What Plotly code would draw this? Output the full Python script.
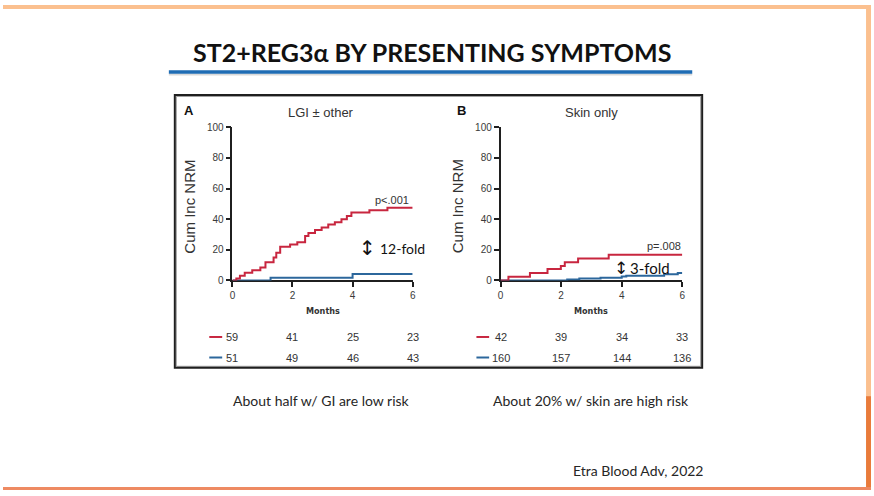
import plotly.graph_objects as go

W, H = 874, 496

# ---------------- data ----------------
tick_months = [0, 2, 4, 6]
y_ticks = [0, 20, 40, 60, 80, 100]

a_red_t = [0, 0.13, 0.25, 0.41, 0.66, 0.93, 1.10, 1.37, 1.46, 1.59, 1.92, 2.16, 2.42,
           2.53, 2.75, 2.97, 3.19, 3.41, 3.63, 3.81, 3.96, 4.56, 5.16, 6.0]
a_red_y = [0, 1.3, 3.0, 5.0, 6.7, 8.4, 11.8, 15.0, 18.0, 22.0, 23.5, 25.0, 29.0,
           31.0, 33.0, 34.5, 36.5, 38.0, 40.0, 42.0, 44.3, 45.8, 47.4, 47.4]
a_blue_t = [0, 1.27, 4.0, 6.0]
a_blue_y = [0, 1.8, 4.2, 4.2]

b_red_t = [0, 0.26, 0.97, 1.55, 1.99, 2.12, 2.56, 3.57, 6.0]
b_red_y = [0, 2.4, 4.8, 7.4, 9.5, 11.9, 14.3, 16.8, 16.8]
b_blue_t = [0, 2.2, 2.6, 3.3, 4.0, 4.15, 5.4, 5.85, 6.0]
b_blue_y = [0, 0.7, 1.2, 1.8, 2.6, 3.0, 4.0, 4.8, 4.8]

a_red_risk = [59, 41, 25, 23]
a_blue_risk = [51, 49, 46, 43]
b_red_risk = [42, 39, 34, 33]
b_blue_risk = [160, 157, 144, 136]

slide_title = "ST2+REG3α BY PRESENTING SYMPTOMS"
panel_titles = ["LGI ± other", "Skin only"]
panel_letters = ["A", "B"]
p_values = ["p<.001", "p=.008"]
fold_labels = ["12-fold", "3-fold"]
captions = ["About half w/ GI are low risk", "About 20% w/ skin are high risk"]
source = "Etra Blood Adv, 2022"

RED = "#C8263F"
BLUE = "#2C679C"
AX = "#1f1f1f"
TXT = "#333333"
ARIAL = "Liberation Sans"
CAL = "Lato"


def px(x):
    return x / W


def py(y):
    return 1 - y / H


fig = go.Figure()

panels = [
    dict(xa="x", ya="y", red=(a_red_t, a_red_y), blue=(a_blue_t, a_blue_y)),
    dict(xa="x2", ya="y2", red=(b_red_t, b_red_y), blue=(b_blue_t, b_blue_y)),
]
for p in panels:
    for col, (t, v) in (("blue", p["blue"]), ("red", p["red"])):
        fig.add_trace(go.Scatter(
            x=t, y=v, mode="lines", line=dict(color=RED if col == "red" else BLUE, width=2, shape="hv"),
            xaxis=p["xa"], yaxis=p["ya"], cliponaxis=False, showlegend=False, hoverinfo="skip"))

x_domains = [[px(231), px(412.5)], [px(501), px(684)]]
y_domain = [py(281.7), py(125)]

axis_common = dict(showgrid=False, zeroline=False, showline=True, linecolor=AX, linewidth=1.5,
                   ticks="outside", ticklen=5, tickwidth=1.5, tickcolor=AX,
                   tickfont=dict(family=ARIAL, size=10, color="#3a3a3a"), layer="below traces")

fig.update_layout(
    width=W, height=H, margin=dict(l=0, r=0, t=0, b=0),
    paper_bgcolor="white", plot_bgcolor="rgba(0,0,0,0)",
    xaxis=dict(domain=x_domains[0], range=[0, 6], tickvals=tick_months, anchor="y", **axis_common),
    yaxis=dict(domain=y_domain, range=[0, 100], tickvals=y_ticks, anchor="x", **axis_common),
    xaxis2=dict(domain=x_domains[1], range=[0, 6], tickvals=tick_months, anchor="y2", **axis_common),
    yaxis2=dict(domain=y_domain, range=[0, 100], tickvals=y_ticks, anchor="x2", **axis_common),
)

ann = []
shapes = []


def A(**kw):
    kw.setdefault("showarrow", False)
    kw.setdefault("xanchor", "center")
    kw.setdefault("yanchor", "middle")
    kw.setdefault("xref", "paper")
    kw.setdefault("yref", "paper")
    ann.append(kw)


# slide decorations
shapes.append(dict(type="rect", xref="paper", yref="paper", x0=0, x1=1, y0=py(4), y1=1,
                   line=dict(width=0), fillcolor="#FBC08F", layer="above"))
shapes.append(dict(type="rect", xref="paper", yref="paper", x0=px(869), x1=1, y0=py(400), y1=1,
                   line=dict(width=0), fillcolor="#FBC08F", layer="above"))
shapes.append(dict(type="rect", xref="paper", yref="paper", x0=px(869), x1=1, y0=0, y1=py(400),
                   line=dict(width=0), fillcolor="#E97B3A", layer="above"))
shapes.append(dict(type="rect", xref="paper", yref="paper", x0=0, x1=1, y0=0, y1=py(493),
                   line=dict(width=0), fillcolor="#EE8A62", layer="above"))
# title underline
shapes.append(dict(type="line", xref="paper", yref="paper", x0=px(167), x1=px(694), y0=py(71), y1=py(71),
                   line=dict(color="#d9d9d9", width=2)))
shapes.append(dict(type="line", xref="paper", yref="paper", x0=px(167), x1=px(694), y0=py(68.5), y1=py(68.5),
                   line=dict(color="#1F6CB4", width=3.5)))
# figure frame (dark outer line with a soft gray inner line)
shapes.append(dict(type="rect", xref="paper", yref="paper", x0=px(174.5), x1=px(702.5), y0=py(369.5), y1=py(93.5),
                   line=dict(color="#9a9a9a", width=1)))
shapes.append(dict(type="rect", xref="paper", yref="paper", x0=px(173), x1=px(704), y0=py(371), y1=py(92),
                   line=dict(color=AX, width=2)))

A(text=f"<b>{slide_title}</b>", x=px(432), y=py(48), font=dict(family=CAL, size=25, color="#111111"))

centers_x = [320.5, 592.5]
letters_x = [187, 461.5]
ytitle_x = [187.5, 458]
dash_x = [(207.7, 220.7), (476.7, 489.5)]
for i in range(2):
    xa = "x" if i == 0 else "x2"
    A(text=f"<b>{panel_letters[i]}</b>", x=px(letters_x[i]), y=py(108),
      font=dict(family=ARIAL, size=13, color="#111111"))
    A(text=panel_titles[i], x=px(centers_x[i]), y=py(110), font=dict(family=ARIAL, size=13, color=TXT))
    A(text="Cum Inc NRM", x=px(ytitle_x[i]), y=py(206), textangle=-90,
      font=dict(family=ARIAL, size=15, color=TXT))
    A(text="<b>Months</b>", x=3, y=py(313), xref=xa, font=dict(family="DejaVu Sans Condensed", size=9, color=TXT))
    A(text=captions[i], x=px(centers_x[i]), y=py(404), font=dict(family=CAL, size=14, color="#262626"))
    reds = a_red_risk if i == 0 else b_red_risk
    blues = a_blue_risk if i == 0 else b_blue_risk
    for vals, col, yy in ((reds, RED, 339.5), (blues, BLUE, 360.5)):
        for m, v in zip(tick_months, vals):
            A(text=str(v), x=m, y=py(yy), xref=xa, font=dict(family=ARIAL, size=11, color=TXT))
        shapes.append(dict(type="line", xref="paper", yref="paper", x0=px(dash_x[i][0]), x1=px(dash_x[i][1]),
                           y0=py(yy), y1=py(yy), line=dict(color=col, width=2)))

# p-values and fold annotations (data coords)
A(text=p_values[0], x=5.3, y=47.4, xref="x", yref="y", yshift=8, font=dict(family=ARIAL, size=11, color=TXT))
A(text=p_values[1], x=5.4, y=16.8, xref="x2", yref="y2", yshift=9, font=dict(family=ARIAL, size=11, color=TXT))
A(text="↕", x=4.5, y=21, xref="x", yref="y", font=dict(family="DejaVu Sans", size=20, color="#111111"))
A(text=fold_labels[0], x=4.85, y=21, xref="x", yref="y", xanchor="left",
  font=dict(family=CAL, size=14, color="#111111"))
A(text="↕", x=3.98, y=8, xref="x2", yref="y2", font=dict(family="DejaVu Sans", size=17, color="#111111"))
A(text=fold_labels[1], x=4.2, y=8, xref="x2", yref="y2", xanchor="left",
  font=dict(family=CAL, size=15, color="#111111"))

A(text=source, x=px(640), y=py(476), font=dict(family=CAL, size=14, color="#262626"))

fig.update_layout(annotations=ann, shapes=shapes)

fig.write_html("out.html", config={"displayModeBar": False},
               post_script="document.body.style.margin='0';")
